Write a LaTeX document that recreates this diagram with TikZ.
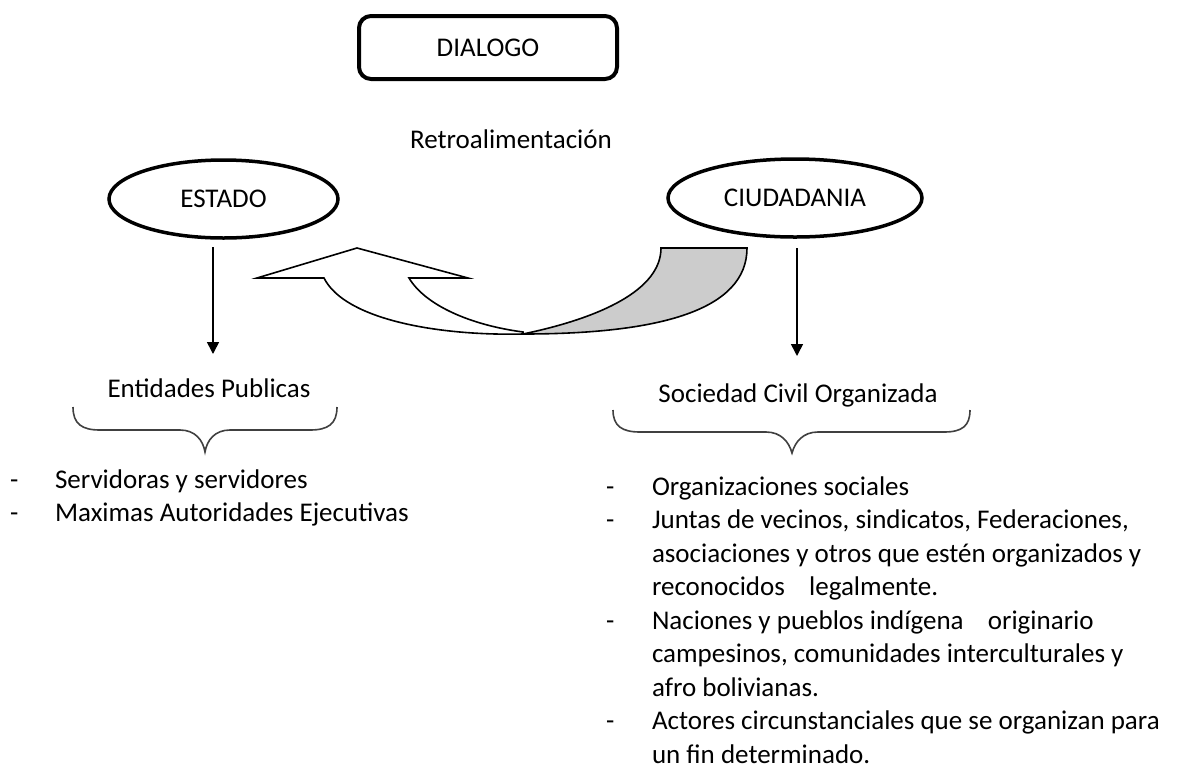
\documentclass[tikz,border=0pt]{standalone}
\usepackage{fontspec}
\setmainfont{Carlito}
\usetikzlibrary{arrows.meta,shapes.geometric}
\begin{document}
\begin{tikzpicture}[x=1pt,y=-1pt,
  txt/.style={inner sep=0pt,outer sep=0pt,font=\fontsize{27}{33}\selectfont},
  listitem/.style={txt,anchor=base west},
  bigell/.style={ellipse,draw=black,line width=3.5pt,minimum width=229pt,minimum height=78pt,inner sep=0pt,font=\fontsize{27}{33}\selectfont},
  downarrow/.style={draw=black,line width=1.6pt,-{Triangle[width=12pt,length=12pt]}},
  bracepath/.style={draw=black!75,line width=1.6pt},
  curvedge/.style={draw=black,line width=1.6pt,line join=miter}
]
\useasboundingbox (0,0) rectangle (1178,772);
\fill[white] (0,0) rectangle (1178,772);

% DIALOGO box
\node[draw=black,line width=4pt,rounded corners=12pt,minimum width=258pt,minimum height=63pt,inner sep=0pt,font=\fontsize{27}{33}\selectfont] (dialogo) at (488,47.5) {DIALOGO};

% Retroalimentacion
\node[txt,anchor=base] (retro) at (511,148) {Retroalimentación};

% ellipses
\node[bigell,minimum width=229pt] (estado) at (223.5,199) {ESTADO};
\node[bigell,minimum width=254pt] (ciudadania) at (795,198) {CIUDADANIA};

% curved arrow: gray tail
\path[curvedge,fill=black!20] (661,248) -- (747,248)
  .. controls (747,310) and (660,334) .. (523,334)
  .. controls (600,318) and (661,290) .. (661,248) -- cycle;
% white shaft with head
\path[curvedge,fill=white] (523,334)
  .. controls (440,336) and (345,320) .. (324,278)
  -- (257,278) -- (357,248) -- (468,278) -- (409,278)
  .. controls (425,305) and (470,325) .. (523,332) -- cycle;

% labels below
\node[txt,anchor=base] (entidades) at (209,397) {Entidades Publicas};
\node[txt,anchor=base] (sociedad) at (798,402) {Sociedad Civil Organizada};

% vertical arrows
\coordinate (a1s) at (213,247);
\coordinate (a1e) at (213,354);
\coordinate (a2s) at (797,248);
\coordinate (a2e) at (797,356);
\draw[downarrow] (a1s) -- (a1e);
\draw[downarrow] (a2s) -- (a2e);

% braces
\draw[bracepath] (73,407) .. controls (73,424) and (82,430) .. (100,430)
  -- (180,430) .. controls (195,430) and (203,440) .. (205,452)
  .. controls (207,440) and (215,430) .. (230,430)
  -- (310,430) .. controls (328,430) and (337,424) .. (337,407);
\draw[bracepath] (613,410) .. controls (613,426) and (622,432) .. (640,432)
  -- (766,432) .. controls (781,432) and (789,442) .. (792,453)
  .. controls (795,442) and (803,432) .. (818,432)
  -- (944,432) .. controls (962,432) and (970,426) .. (970,410);

% left list
\node[listitem] (ld1) at (10,488) {-};
\node[listitem] (l1) at (55,488) {Servidoras y servidores};
\node[listitem] (ld2) at (10,521.5) {-};
\node[listitem] (l2) at (55,521.5) {Maximas Autoridades Ejecutivas};

% right list
\node[listitem] (rd1) at (606,495) {-};
\node[listitem] (r1) at (652,495) {Organizaciones sociales};
\node[listitem] (rd2) at (606,528.5) {-};
\node[listitem] (r2a) at (652,528.5) {Juntas de vecinos, sindicatos, Federaciones,};
\node[listitem] (r2b) at (652,562) {asociaciones y otros que estén organizados y};
\node[listitem] (r2c) at (652,595.5) {reconocidos\hspace{0.9em}legalmente.};
\node[listitem] (rd3) at (606,629) {-};
\node[listitem] (r3a) at (652,629) {Naciones y pueblos indígena\hspace{0.9em}originario};
\node[listitem] (r3b) at (652,662.5) {campesinos, comunidades interculturales y};
\node[listitem] (r3c) at (652,696) {afro bolivianas.};
\node[listitem] (rd4) at (606,729.5) {-};
\node[listitem] (r4a) at (652,729.5) {Actores circunstanciales que se organizan para};
\node[listitem] (r4b) at (652,763) {un fin determinado.};
\end{tikzpicture}
\end{document}
